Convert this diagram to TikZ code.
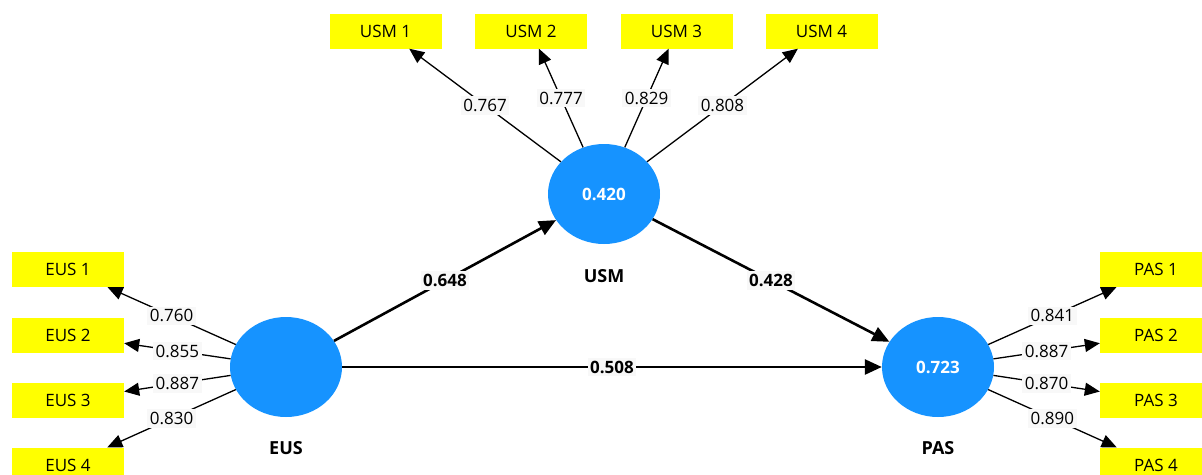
\documentclass[tikz,border=0pt]{standalone}
\usepackage{fontspec}
\setmainfont{Open Sans}
\usetikzlibrary{arrows.meta, shapes.geometric, calc}

\definecolor{lvblue}{RGB}{22,147,255}
\definecolor{mvyellow}{RGB}{255,255,0}
\definecolor{coefgray}{RGB}{248,248,248}

\tikzset{
 latent/.style={ellipse, fill=lvblue, minimum width=112pt, minimum height=100pt, inner sep=0pt,
   text=white, font=\fontsize{17}{20}\selectfont\bfseries},
 item/.style={rectangle, fill=mvyellow, minimum width=112pt, minimum height=35pt, inner sep=0pt,
   font=\fontsize{17}{20}\selectfont},
 lvname/.style={font=\fontsize{18}{20}\selectfont\bfseries},
 loading/.style={line width=1.3pt, -{Triangle[length=15pt,width=13pt]}},
 structural/.style={line width=2.6pt, -{Triangle[length=17pt,width=15pt]}},
 coef/.style={fill=coefgray, inner xsep=2.5pt, inner ysep=3pt, font=\fontsize{17}{20}\selectfont},
 coefbold/.style={coef, font=\fontsize{17}{20}\selectfont\bfseries},
}

\begin{document}
\begin{tikzpicture}[x=1pt, y=-1pt]

%% frame (pixel grid of the picture)
\clip (0,0) rectangle (1202,474);
\fill[white] (0,0) rectangle (1202,474);

%% Paramaters
\def\itemLeft{68}
\def\itemRight{1156}
\def\itemTop{31}

%% ***Latent variables***
\node[latent] (EUS) at (286,367) {};
\node[latent] (USM) at (604,194) {0.420};
\node[latent] (PAS) at (938,367) {0.723};

\node[lvname] (EUSname) at (286,448) {EUS};
\node[lvname] (USMname) at (604,276) {USM};
\node[lvname] (PASname) at (938,448) {PAS};

%% ***Indicators of EUS***
\node[item] (EUS1) at (\itemLeft,269.5) {EUS 1};
\node[item] (EUS2) at (\itemLeft,335) {EUS 2};
\node[item] (EUS3) at (\itemLeft,400) {EUS 3};
\node[item] (EUS4) at (\itemLeft,465) {EUS 4};

%% ***Indicators of USM***
\node[item] (USM1) at (385.5,\itemTop) {USM 1};
\node[item] (USM2) at (531,\itemTop) {USM 2};
\node[item] (USM3) at (676.5,\itemTop) {USM 3};
\node[item] (USM4) at (821.5,\itemTop) {USM 4};

%% ***Indicators of PAS***
\node[item] (PAS1) at (\itemRight,269.5) {PAS 1};
\node[item] (PAS2) at (\itemRight,335) {PAS 2};
\node[item] (PAS3) at (\itemRight,400) {PAS 3};
\node[item] (PAS4) at (\itemRight,465) {PAS 4};

%% Outer loadings
\draw[loading] (EUS) -- node[coef]{0.760} (EUS1);
\draw[loading] (EUS) -- node[coef]{0.855} (EUS2);
\draw[loading] (EUS) -- node[coef]{0.887} (EUS3);
\draw[loading] (EUS) -- node[coef]{0.830} (EUS4);

\draw[loading] (USM) -- node[coef]{0.767} (USM1);
\draw[loading] (USM) -- node[coef]{0.777} (USM2);
\draw[loading] (USM) -- node[coef]{0.829} (USM3);
\draw[loading] (USM) -- node[coef]{0.808} (USM4);

\draw[loading] (PAS) -- node[coef]{0.841} (PAS1);
\draw[loading] (PAS) -- node[coef]{0.887} (PAS2);
\draw[loading] (PAS) -- node[coef]{0.870} (PAS3);
\draw[loading] (PAS) -- node[coef]{0.890} (PAS4);

%% Path coefficients
\draw[structural] (EUS) -- node[coefbold]{0.648} (USM);
\draw[structural] (USM) -- node[coefbold]{0.428} (PAS);
\draw[structural] (EUS) -- node[coefbold]{0.508} (PAS);

\end{tikzpicture}
\end{document}
